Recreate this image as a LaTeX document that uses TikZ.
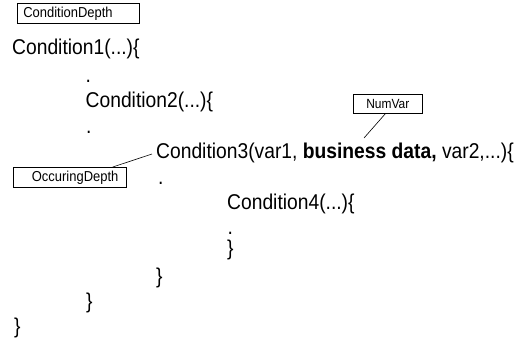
\documentclass[tikz,border=0pt]{standalone}
\usepackage{fontspec}
\setmainfont[FakeStretch=0.9]{Liberation Sans}
\usepackage{tikz}
\tikzset{
    codeline/.style={anchor=base west, inner sep=0pt, font=\fontsize{21.4}{25}\selectfont},
    depthbox/.style={rectangle, draw, line width=0.7pt, inner ysep=0pt,
      font=\fontsize{14.4}{16}\selectfont},
}

\begin{document}
\begin{tikzpicture}[x=1pt, y=-1pt]
 \useasboundingbox (0,0) rectangle (517,341);
 % labels in boxes
 \node[depthbox, anchor=north west, minimum height=20pt, text width=110pt,
    inner xsep=6pt, align=left] (cdepth) at (17,3) {ConditionDepth};
 \node[depthbox, anchor=north west, minimum height=20pt, text width=97pt,
    inner xsep=8pt, align=right] (odepth) at (13,167) {OccuringDepth};
 \node[depthbox, anchor=north west, minimum height=19pt, minimum width=69pt,
    font=\fontsize{13.3}{15}\selectfont] (numvar) at (353,94) {NumVar};
 % nested conditions
 \node[codeline] (cond1) at (12,54) {Condition1(...)\{};
 \node[codeline] (dot1) at (85.5,82) {.};
 \node[codeline] (cond2) at (85.5,107) {Condition2(...)\{};
 \node[codeline] (dot2) at (86,133) {.};
 \node[codeline] (cond3) at (156,158) {Condition3(var1, \textbf{business data,} var2,...)\{};
 \node[codeline] (dot3) at (158,184) {.};
 \node[codeline] (cond4) at (227,209) {Condition4(...)\{};
 \node[codeline] (dot4) at (227.5,234) {.};
 \node[codeline] (close4) at (227,255) {\}};
 \node[codeline] (close3) at (156,283) {\}};
 \node[codeline] (close2) at (86,308) {\}};
 \node[codeline] (close1) at (14,333) {\}};
 % pointers
 \coordinate (numtip) at (364,138);
 \coordinate (occtip) at (152,154);
 \draw[line width=0.6pt] ([xshift=-2.5pt]numvar.south) -- (numtip);
 \draw[line width=0.6pt] ([xshift=-14pt]odepth.north east) -- (occtip);
\end{tikzpicture}
\end{document}
